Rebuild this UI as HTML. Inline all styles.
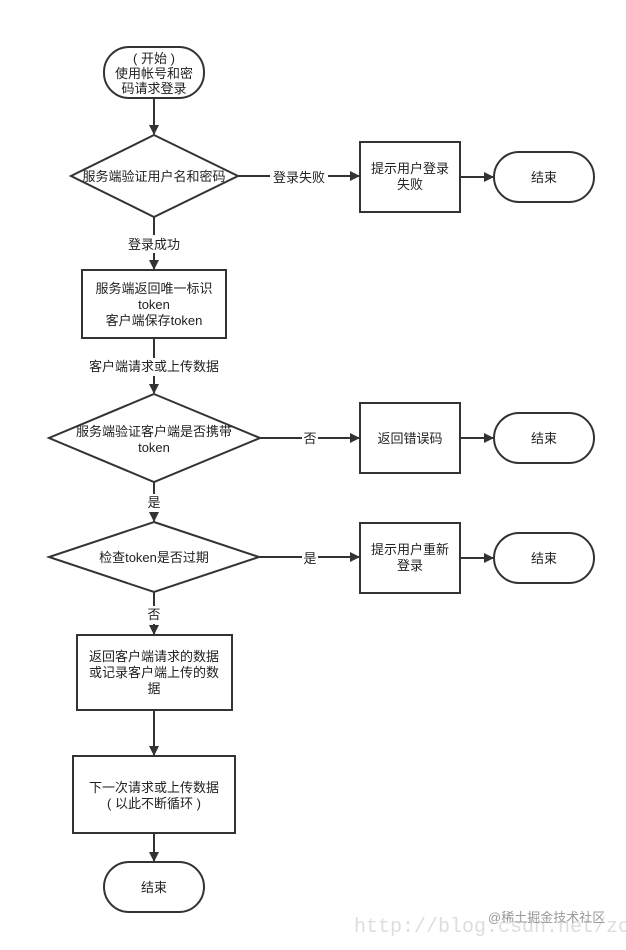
<!DOCTYPE html>
<html><head><meta charset="utf-8"><style>
html,body{margin:0;padding:0;background:#fff;}
svg text{font-family:"Liberation Sans","Noto Sans CJK SC",sans-serif;font-size:13px;fill:#222;}
</style></head><body>
<svg width="626" height="945" viewBox="0 0 626 945" xmlns="http://www.w3.org/2000/svg">
<defs><marker id="a" markerWidth="10" markerHeight="10" refX="9" refY="5" orient="auto" markerUnits="userSpaceOnUse"><path d="M0,0 L10,5 L0,10 Z" fill="#333"/></marker></defs>
<g fill="none" stroke="#333" stroke-width="2">
<rect x="104" y="47" width="100" height="51" rx="25"/>
<polygon points="154,135 238,176 154,217 71,176"/>
<rect x="360" y="142" width="100" height="70"/>
<rect x="494" y="152" width="100" height="50" rx="25"/>
<rect x="82" y="270" width="144" height="68"/>
<polygon points="154,394 260,438 154,482 49,438"/>
<rect x="360" y="403" width="100" height="70"/>
<rect x="494" y="413" width="100" height="50" rx="25"/>
<polygon points="154,522 259,557 154,592 49,557"/>
<rect x="360" y="523" width="100" height="70"/>
<rect x="494" y="533" width="100" height="50" rx="25"/>
<rect x="77" y="635" width="155" height="75"/>
<rect x="73" y="756" width="162" height="77"/>
<rect x="104" y="862" width="100" height="50" rx="25"/>
</g>
<g stroke="#333" stroke-width="2" marker-end="url(#a)">
<line x1="154" y1="98" x2="154" y2="134"/>
<line x1="238" y1="176" x2="359" y2="176"/>
<line x1="460" y1="177" x2="493" y2="177"/>
<line x1="154" y1="217" x2="154" y2="269"/>
<line x1="154" y1="338" x2="154" y2="393"/>
<line x1="260" y1="438" x2="359" y2="438"/>
<line x1="460" y1="438" x2="493" y2="438"/>
<line x1="154" y1="482" x2="154" y2="521"/>
<line x1="259" y1="557" x2="359" y2="557"/>
<line x1="460" y1="558" x2="493" y2="558"/>
<line x1="154" y1="592" x2="154" y2="634"/>
<line x1="154" y1="710" x2="154" y2="755"/>
<line x1="154" y1="833" x2="154" y2="861"/>
</g>
<g fill="#fff">
<rect x="270" y="168" width="58" height="18"/>
<rect x="125" y="235" width="58" height="18"/>
<rect x="85" y="358" width="138" height="18"/>
<rect x="302" y="430" width="16" height="18"/>
<rect x="146" y="494" width="16" height="18"/>
<rect x="302" y="549" width="16" height="18"/>
<rect x="146" y="606" width="16" height="18"/>
</g>
<g text-anchor="middle">
<text x="154" y="63">( 开始 )</text>
<text x="154" y="78">使用帐号和密</text>
<text x="154" y="93">码请求登录</text>
<text x="154" y="181">服务端验证用户名和密码</text>
<text x="299" y="182">登录失败</text>
<text x="410" y="173">提示用户登录</text>
<text x="410" y="189">失败</text>
<text x="544" y="182">结束</text>
<text x="154" y="249">登录成功</text>
<text x="154" y="293">服务端返回唯一标识</text>
<text x="154" y="309">token</text>
<text x="154" y="325">客户端保存token</text>
<text x="154" y="371">客户端请求或上传数据</text>
<text x="154" y="436">服务端验证客户端是否携带</text>
<text x="154" y="452">token</text>
<text x="310" y="443">否</text>
<text x="410" y="443">返回错误码</text>
<text x="544" y="443">结束</text>
<text x="154" y="507">是</text>
<text x="154" y="562">检查token是否过期</text>
<text x="310" y="563">是</text>
<text x="410" y="554">提示用户重新</text>
<text x="410" y="570">登录</text>
<text x="544" y="563">结束</text>
<text x="154" y="619">否</text>
<text x="154" y="661">返回客户端请求的数据</text>
<text x="154" y="677">或记录客户端上传的数</text>
<text x="154" y="693">据</text>
<text x="154" y="792">下一次请求或上传数据</text>
<text x="154" y="808">( 以此不断循环 )</text>
<text x="154" y="892">结束</text>
</g>
<text x="354" y="932" style="font-family:'Liberation Mono',monospace;font-size:20px;fill:#ddd;">http://blog.csdn.net/zone_</text>
<text x="488" y="922" style="font-size:13px;fill:#999;">@稀土掘金技术社区</text>
</svg>
</body></html>
